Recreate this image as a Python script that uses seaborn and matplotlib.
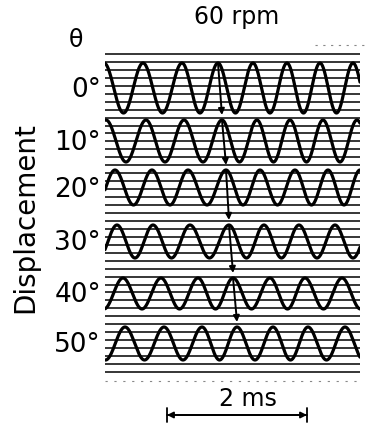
import numpy as np
import pandas as pd
import matplotlib
matplotlib.use("Agg")
import matplotlib.pyplot as plt
import seaborn as sns

# angles of the traces (deg)
angles = [0, 10, 20, 30, 40, 50]
# peak times (ms)
peaks = {
    0: [0.543, 1.100, 1.614, 2.114, 2.600, 3.071, 3.543],
    10: [0.014, 0.586, 1.129, 1.671, 2.171, 2.643, 3.114, 3.600],
    20: [0.143, 0.671, 1.186, 1.729, 2.214, 2.714, 3.186, 3.643],
    30: [0.171, 0.686, 1.214, 1.771, 2.271, 2.771, 3.286],
    40: [0.257, 0.800, 1.329, 1.829, 2.357, 2.857, 3.386],
    50: [0.286, 0.843, 1.386, 1.886, 2.400, 2.900, 3.429],
}
# trace baseline and amplitude (screen units, downward)
baseline = [88, 141, 187.5, 241.5, 293.5, 343.5]
amplitude = [25, 21, 17.5, 16.5, 15.5, 16.5]
# which peak the arrow marks on each trace
marked = [2, 3, 3, 3, 3, 3]

t_max = 3.643
scale_ms = 2

sns.set_theme(style="white")
plt.rcParams['font.family'] = ['DejaVu Sans']
plt.rcParams['text.color'] = 'black'

fig = plt.figure(figsize=(3.81, 4.26), dpi=100)
ax = fig.add_axes([105 / 381, 1 - 378 / 426, 255 / 381, 328 / 426])

t = np.linspace(0, t_max, 2000)
rows = []
for ang, c, a in zip(angles, baseline, amplitude):
    p = np.array(peaks[ang])
    k = np.arange(len(p)) * 2 * np.pi
    # extend the peak sequence two periods beyond each end
    lead = p[1] - p[0]
    tail = p[-1] - p[-2]
    p_ext = np.concatenate([[p[0] - 2 * lead, p[0] - lead], p,
                            [p[-1] + tail, p[-1] + 2 * tail]])
    k_ext = np.concatenate([[k[0] - 4 * np.pi, k[0] - 2 * np.pi], k,
                            [k[-1] + 2 * np.pi, k[-1] + 4 * np.pi]])
    phase = np.interp(t, p_ext, k_ext)
    rows.append(pd.DataFrame({'t': t, 'disp': c - a * np.cos(phase), 'angle': ang}))
df = pd.concat(rows)

# screen grid lines
ax.hlines(np.linspace(54, 372, 41), 0, t_max, color='black', lw=1.1, zorder=1)

sns.lineplot(data=df, x='t', y='disp', units='angle', estimator=None,
             color='black', lw=2.3, sort=False, ax=ax, zorder=3)

# arrows linking the marked peaks
for i in range(len(angles) - 1):
    a0, a1 = angles[i], angles[i + 1]
    x0 = peaks[a0][marked[i]]
    x1 = peaks[a1][marked[i + 1]]
    y0 = baseline[i] - amplitude[i]
    y1 = baseline[i + 1] - amplitude[i + 1] - 5
    ax.annotate('', xy=(x1, y1), xytext=(x0, y0),
                arrowprops=dict(arrowstyle='-|>', color='black', lw=1.4,
                                mutation_scale=9, shrinkA=0, shrinkB=0),
                zorder=4)

ax.set_xlim(0, t_max)
ax.set_ylim(378, 50)
ax.axis('off')

# faint scan dots
ax.hlines(381, 0.0, t_max, color='#888888', lw=0.8, ls=(0, (2, 6)), clip_on=False)
ax.hlines(45, 3.0, 3.72, color='#888888', lw=0.8, ls=(0, (2, 5)), clip_on=False)

fig.text(76 / 381, 1 - 40 / 426, 'θ', fontsize=17, ha='center', va='center')
fig.text(237 / 381, 1 - 17 / 426, '60 rpm', fontsize=17, ha='center', va='center')
for ang, c in zip(angles, baseline):
    fig.text(101 / 381, 1 - (c + 2) / 426, f'{ang}°', fontsize=19, ha='right', va='center')
fig.text(25 / 381, 1 - 218 / 426, 'Displacement', fontsize=20, rotation=90,
         ha='center', va='center')

# 2 ms scale bar
x_start = (167 - 105) / 70
bar_y = 1 - 415 / 426
ax.annotate('', xy=(x_start + scale_ms, bar_y), xytext=(x_start, bar_y),
            xycoords=('data', 'figure fraction'), textcoords=('data', 'figure fraction'),
            arrowprops=dict(arrowstyle='<|-|>', color='black', lw=1.3,
                            mutation_scale=9, shrinkA=0, shrinkB=0))
ax.annotate('', xy=(x_start + scale_ms, bar_y), xytext=(x_start, bar_y),
            xycoords=('data', 'figure fraction'), textcoords=('data', 'figure fraction'),
            arrowprops=dict(arrowstyle='|-|', color='black', lw=1.3,
                            mutation_scale=5, shrinkA=0, shrinkB=0))
ax.annotate(f'{scale_ms} ms', xy=(x_start + scale_ms / 2 + 0.15, 1 - 399 / 426),
            xycoords=('data', 'figure fraction'), fontsize=17, ha='center', va='center')

fig.savefig('out.png', dpi=100)
